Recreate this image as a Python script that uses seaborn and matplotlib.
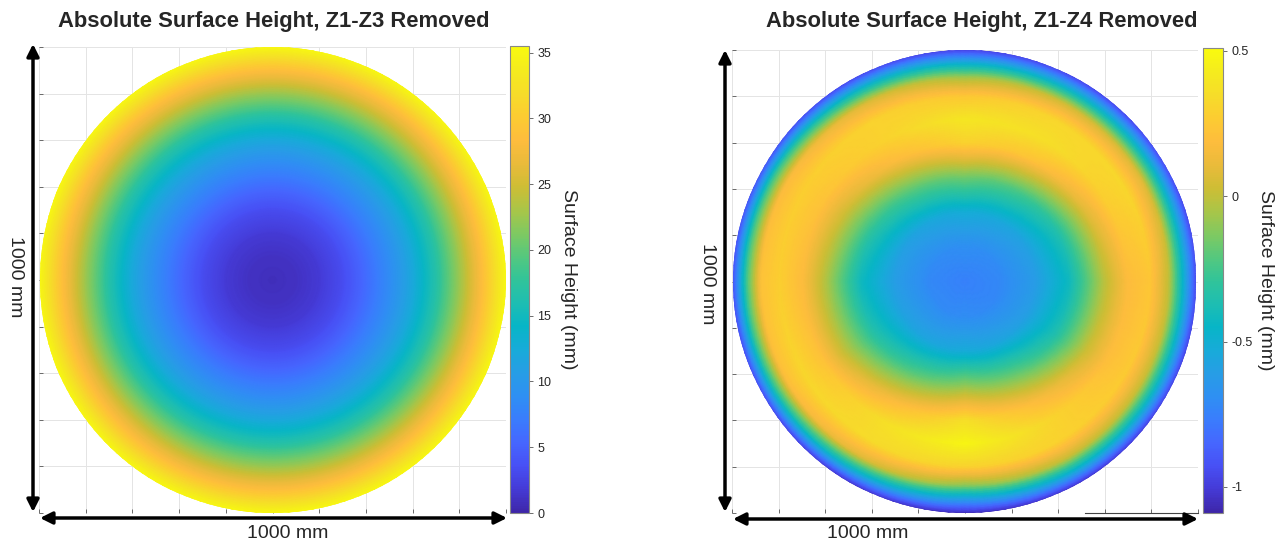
import numpy as np
import matplotlib
matplotlib.use("Agg")
import matplotlib.pyplot as plt
from matplotlib.colors import LinearSegmentedColormap
from matplotlib.patches import FancyArrowPatch
import seaborn as sns

# left map (Z1-Z3 removed): radially symmetric, height in mm vs normalised radius
r_left = [0.0, 0.1, 0.2, 0.3, 0.4, 0.5, 0.6, 0.7, 0.8, 0.9, 1.0, 1.08]
h_left = [0.8, 1.1, 1.8, 3.3, 5.7, 8.5, 12.0, 16.6, 22.3, 28.5, 35.0, 37.0]
left_ticks = [0, 5, 10, 15, 20, 25, 30, 35]
left_clim = (0, 35.5)

# right map (Z1-Z4 removed): height in mm read along 12 directions (deg, ccw from +x)
r_right = [0.0, 0.15, 0.3, 0.45, 0.6, 0.7, 0.8, 0.88, 0.94, 1.0, 1.08]
ang_right = [0, 30, 60, 90, 120, 150, 180, 210, 240, 270, 300, 330]
h_right = [
    [-0.75, -0.72, -0.62, -0.42, -0.02, 0.18, 0.24, 0.00, -0.45, -0.95, -1.30],  # 0
    [-0.75, -0.71, -0.59, -0.35, 0.08, 0.28, 0.32, 0.08, -0.40, -0.93, -1.30],   # 30
    [-0.75, -0.70, -0.55, -0.24, 0.22, 0.36, 0.32, 0.05, -0.42, -0.94, -1.30],   # 60
    [-0.75, -0.69, -0.52, -0.16, 0.30, 0.40, 0.25, -0.05, -0.47, -0.96, -1.30],  # 90
    [-0.75, -0.70, -0.55, -0.22, 0.18, 0.30, 0.30, 0.08, -0.38, -0.93, -1.30],   # 120
    [-0.75, -0.71, -0.59, -0.32, 0.04, 0.22, 0.28, 0.18, -0.25, -0.90, -1.30],   # 150
    [-0.75, -0.72, -0.61, -0.42, -0.04, 0.18, 0.28, 0.22, -0.22, -0.88, -1.30],  # 180
    [-0.75, -0.71, -0.58, -0.34, 0.00, 0.22, 0.32, 0.20, -0.28, -0.93, -1.30],   # 210
    [-0.75, -0.71, -0.56, -0.22, 0.18, 0.36, 0.34, 0.08, -0.42, -1.00, -1.32],   # 240
    [-0.75, -0.70, -0.53, -0.10, 0.36, 0.48, 0.30, -0.10, -0.60, -1.05, -1.35],  # 270
    [-0.75, -0.71, -0.56, -0.20, 0.18, 0.32, 0.30, 0.02, -0.45, -1.00, -1.32],   # 300
    [-0.75, -0.72, -0.60, -0.36, 0.02, 0.20, 0.26, 0.02, -0.42, -0.96, -1.30],   # 330
]
right_ticks = [-1, -0.5, 0, 0.5]
right_tick_labels = ["-1", "-0.5", "0", "0.5"]
right_clim = (-1.09, 0.51)

titles = ["Absolute Surface Height, Z1-Z3 Removed",
          "Absolute Surface Height, Z1-Z4 Removed"]

# parula-like colormap
parula = LinearSegmentedColormap.from_list("parula", [
    (0.2422, 0.1504, 0.6603), (0.2691, 0.2287, 0.8396), (0.2812, 0.3137, 0.9597),
    (0.2737, 0.4019, 0.9981), (0.2260, 0.4886, 0.9920), (0.1822, 0.5637, 0.9505),
    (0.1530, 0.6166, 0.9014), (0.0916, 0.6707, 0.8494), (0.0294, 0.7102, 0.7785),
    (0.1173, 0.7446, 0.6966), (0.1930, 0.7675, 0.6010), (0.3333, 0.7847, 0.4936),
    (0.5010, 0.7883, 0.3796), (0.6658, 0.7727, 0.2800), (0.8091, 0.7427, 0.2060),
    (0.9183, 0.7313, 0.2297), (0.9946, 0.7402, 0.2392), (0.9884, 0.7991, 0.1939),
    (0.9643, 0.8654, 0.1623), (0.9600, 0.9225, 0.1174), (0.9763, 0.9831, 0.0538),
], N=256)

sns.set_theme(style="white")
plt.rcParams["font.family"] = ["Liberation Sans", "DejaVu Sans"]

W, H = 1284, 544
fig = plt.figure(figsize=(W / 100, H / 100), dpi=100)

# drawing mesh (smooths the readings for display)
theta_mesh = np.arange(0, 361, 2)
r_mesh = np.linspace(0, 1.08, 109)


def rect(x0, y0, x1, y1):
    return [x0 / W, 1 - y1 / H, (x1 - x0) / W, (y1 - y0) / H]


def background(r):
    ax = fig.add_axes(r)
    ax.set_xlim(0, 10)
    ax.set_ylim(0, 10)
    ax.set_xticks(range(11))
    ax.set_yticks(range(11))
    ax.grid(True, color="#e4e4e4", lw=0.7)
    ax.tick_params(direction="in", length=3, width=0.6, color="#555555",
                   labelbottom=False, labelleft=False, left=True, bottom=True)
    sns.despine(ax=ax, left=True, bottom=True)
    return ax


def disk(r, z, clim):
    ax = fig.add_axes(r, projection="polar")
    th, rr = np.meshgrid(np.deg2rad(theta_mesh), r_mesh)
    m = ax.pcolormesh(th, rr, z, shading="gouraud", cmap=parula,
                      vmin=clim[0], vmax=clim[1])
    ax.set_ylim(0, 1)
    ax.set_axis_off()
    return m


def colorbar(m, r, ticks, labels=None):
    cax = fig.add_axes(r)
    cb = fig.colorbar(m, cax=cax)
    cb.set_ticks(ticks)
    if labels is not None:
        cb.set_ticklabels(labels)
    cb.outline.set_edgecolor("#888888")
    cb.outline.set_linewidth(0.8)
    cax.tick_params(direction="out", length=3, width=0.6, color="#555555",
                    labelsize=9, pad=3)
    cb.set_label("Surface Height (mm)", rotation=270, fontsize=14)
    cax.yaxis.label.set_ha("center")
    cax.yaxis.label.set_va("center")
    cax.yaxis.set_label_coords(1 + 41 / 19.5, 0.5)
    return cb


# left panel
rl = rect(39, 47, 506, 513)
background(rl)
prof_left = np.interp(r_mesh, r_left, h_left)
z_left = np.tile(prof_left[:, None], (1, len(theta_mesh)))
m1 = disk(rl, z_left, left_clim)
colorbar(m1, rect(510, 46, 529, 513), left_ticks)

# right panel
rr_ = rect(732, 50, 1198, 513)
axr = background(rr_)
axr.spines["bottom"].set_visible(True)
axr.spines["bottom"].set_color("#444444")
axr.spines["bottom"].set_linewidth(0.8)
axr.spines["bottom"].set_bounds(7.57, 10)
around = np.array([np.interp(theta_mesh, ang_right, ring, period=360)
                   for ring in np.array(h_right).T])
z_right = np.array([np.interp(r_mesh, r_right, col) for col in around.T]).T
m2 = disk(rr_, z_right, right_clim)
colorbar(m2, rect(1203, 48, 1223, 513), right_ticks, right_tick_labels)

# titles
fig.text(274 / W, 1 - 21 / H, titles[0], ha="center", va="center",
         fontsize=15.8, fontweight="bold")
fig.text(982 / W, 1 - 21 / H, titles[1], ha="center", va="center",
         fontsize=15.8, fontweight="bold")


def arrow(x0, y0, x1, y1):
    a = FancyArrowPatch((x0 / W, 1 - y0 / H), (x1 / W, 1 - y1 / H),
                        transform=fig.transFigure, arrowstyle="<|-|>",
                        mutation_scale=18, lw=2.5, color="black",
                        shrinkA=0, shrinkB=0)
    fig.add_artist(a)


arrow(33, 44, 33, 512)
arrow(40, 518, 507, 518)
arrow(725, 50, 725, 512)
arrow(733, 519, 1198, 519)

fig.text(288 / W, 1 - 534 / H, "1000 mm", ha="center", va="center", fontsize=14)
fig.text(15 / W, 1 - 277 / H, "1000 mm", ha="center", va="center",
         fontsize=14, rotation=270)
fig.text(868 / W, 1 - 533 / H, "1000 mm", ha="center", va="center", fontsize=14)
fig.text(708 / W, 1 - 284 / H, "1000 mm", ha="center", va="center",
         fontsize=14, rotation=270)

fig.savefig("out.png", dpi=100)
